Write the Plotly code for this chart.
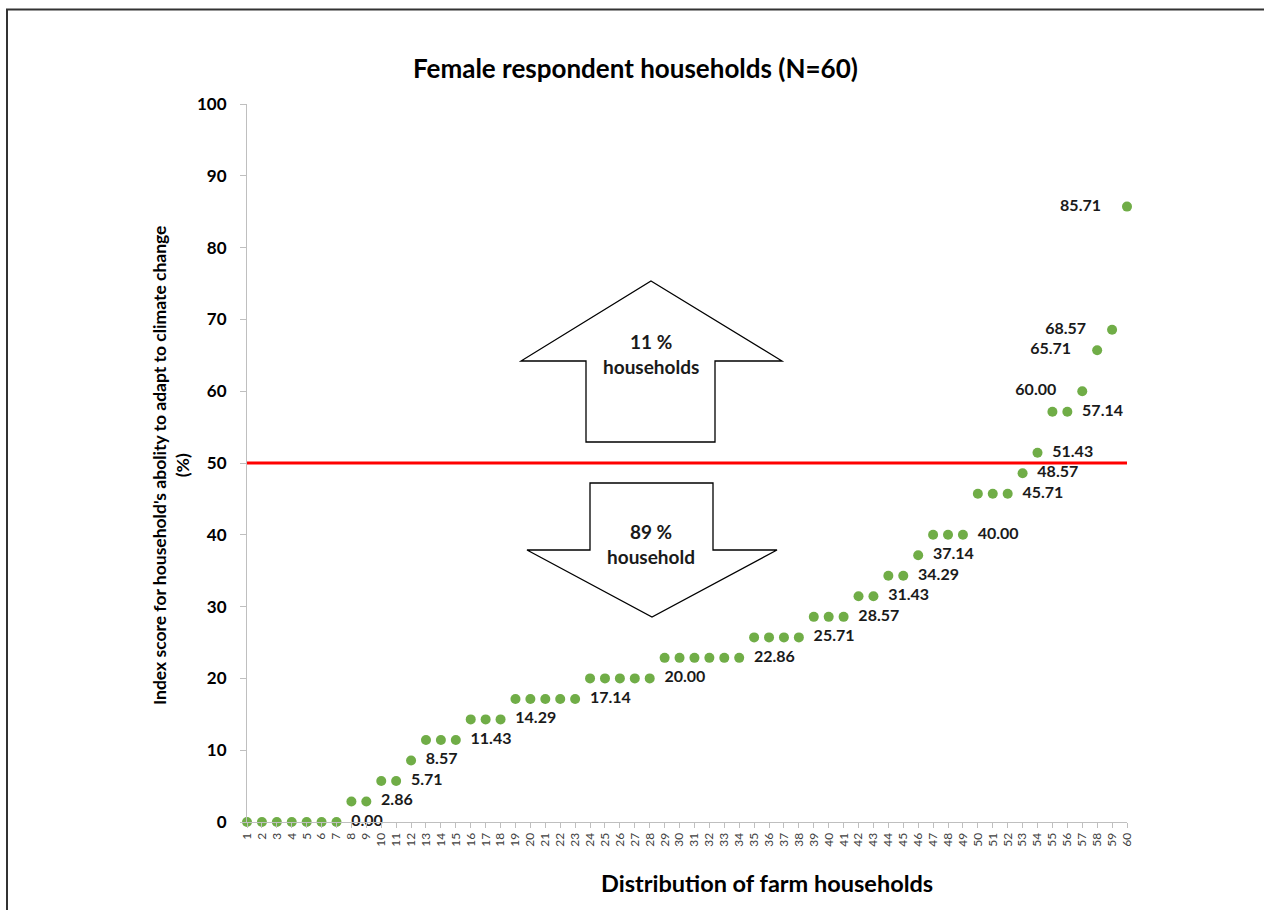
import plotly.graph_objects as go

households = list(range(1, 61))
scores = ([0.00] * 7 + [2.86] * 2 + [5.71] * 2 + [8.57] + [11.43] * 3 + [14.29] * 3 +
          [17.14] * 5 + [20.00] * 5 + [22.86] * 6 + [25.71] * 4 + [28.57] * 3 +
          [31.43] * 2 + [34.29] * 2 + [37.14] + [40.00] * 3 + [45.71] * 3 + [48.57] +
          [51.43] + [57.14] * 2 + [60.00] + [65.71] + [68.57] + [85.71])
left_labelled = [60.00, 65.71, 68.57, 85.71]
threshold = 50
pct_above = "11 %"
pct_below = "89 %"

# label the last point of each group of equal scores
lab_x_r, lab_y_r, lab_x_l, lab_y_l = [], [], [], []
for i, s in enumerate(scores):
    if i == len(scores) - 1 or scores[i + 1] != s:
        if s in left_labelled:
            lab_x_l.append(households[i]); lab_y_l.append(s)
        else:
            lab_x_r.append(households[i]); lab_y_r.append(s)

FONT = "Lato, Carlito, Calibri, sans-serif"
GREEN = "#70AD47"

# plot area geometry (pixels)
L, R, T, B = 247, 1127, 104, 822
W, H = 1264, 910

def px(x):  # pixel -> paper x
    return (x - L) / (R - L)

def py(y):
    return (B - y) / (B - T)

lab_font = dict(family=FONT, size=16, color="#1a1a1a", weight="bold")
fig = go.Figure()
fig.add_trace(go.Scatter(x=households, y=scores, mode="markers",
                         marker=dict(color=GREEN, size=10), cliponaxis=False,
                         hoverinfo="x+y"))
fig.add_trace(go.Scatter(x=lab_x_r, y=lab_y_r, mode="markers+text",
                         marker=dict(size=22, color="rgba(0,0,0,0)"),
                         text=["%.2f" % v for v in lab_y_r], textposition="middle right",
                         textfont=lab_font, cliponaxis=False, hoverinfo="skip"))
fig.add_trace(go.Scatter(x=lab_x_l, y=lab_y_l, mode="markers+text",
                         marker=dict(size=40, color="rgba(0,0,0,0)"),
                         text=["%.2f" % v for v in lab_y_l], textposition="middle left",
                         textfont=lab_font, cliponaxis=False, hoverinfo="skip"))

shapes = []
# threshold line
shapes.append(dict(type="line", xref="paper", yref="y", x0=0, x1=1, y0=threshold, y1=threshold,
                   line=dict(color="#FF0000", width=3)))

def poly(pts):
    p = "M " + " L ".join("%f,%f" % (px(a), py(b)) for a, b in pts) + " Z"
    return dict(type="path", xref="paper", yref="paper", path=p,
                line=dict(color="black", width=1.3), fillcolor="white")

up = [(651, 281), (782, 361), (715, 361), (715, 442), (586, 442), (586, 361), (521, 361)]
down = [(590, 483), (713, 483), (713, 550), (777, 550), (652, 617), (527, 550), (590, 550)]
shapes.append(poly(up))
shapes.append(poly(down))
# outer border
shapes.append(dict(type="line", xref="paper", yref="paper", x0=px(7), x1=px(7), y0=py(9), y1=py(915),
                   line=dict(color="#333333", width=2)))
shapes.append(dict(type="line", xref="paper", yref="paper", x0=px(6), x1=px(1270), y0=py(9.5), y1=py(9.5),
                   line=dict(color="#333333", width=2)))

annotations = [
    dict(text="<b>%s</b><br><b>households</b>" % pct_above, xref="paper", yref="paper",
         x=px(651), y=py(354), xanchor="center", yanchor="middle", showarrow=False,
         font=dict(family=FONT, size=19, color="#1a1a1a")),
    dict(text="<b>%s</b><br><b>household</b>" % pct_below, xref="paper", yref="paper",
         x=px(651), y=py(544), xanchor="center", yanchor="middle", showarrow=False,
         font=dict(family=FONT, size=19, color="#1a1a1a")),
    dict(text="<b>Female respondent households (N=60)</b>", xref="paper", yref="paper",
         x=px(635), y=py(68), xanchor="center", yanchor="middle", showarrow=False,
         font=dict(family=FONT, size=26, color="#000000")),
    dict(text="<b>Index score for household's abolity to adapt to climate change</b><br><b>(%)</b>",
         xref="paper", yref="paper", x=px(171), y=py(466), xanchor="center", yanchor="middle",
         showarrow=False, textangle=-90, font=dict(family=FONT, size=17.5, color="#000000")),
    dict(text="<b>Distribution of farm households</b>", xref="paper", yref="paper",
         x=px(767), y=py(883), xanchor="center", yanchor="middle", showarrow=False,
         font=dict(family=FONT, size=23.5, color="#000000")),
]

fig.update_layout(
    width=W, height=H, plot_bgcolor="white", paper_bgcolor="white",
    margin=dict(l=L, r=W - R, t=T, b=H - B, pad=0),
    showlegend=False, shapes=shapes, annotations=annotations,
    font=dict(family=FONT),
    xaxis=dict(range=[1, 60], tickmode="array", tickvals=households,
               ticktext=[str(h) for h in households], tickangle=-90,
               tickfont=dict(family=FONT, size=12, color="#404040"),
               showline=True, linecolor="#bfbfbf", linewidth=1, ticks="outside",
               tickcolor="#bfbfbf", ticklen=5, showgrid=False, zeroline=False),
    yaxis=dict(range=[0, 100], dtick=10, tickfont=dict(family=FONT, size=17, color="#000000", weight="bold"),
               showline=True, linecolor="#bfbfbf", linewidth=1, ticks="outside",
               tickcolor="#bfbfbf", ticklen=6, ticklabelstandoff=10,
               showgrid=False, zeroline=False),
)

fig.write_html("out.html")
